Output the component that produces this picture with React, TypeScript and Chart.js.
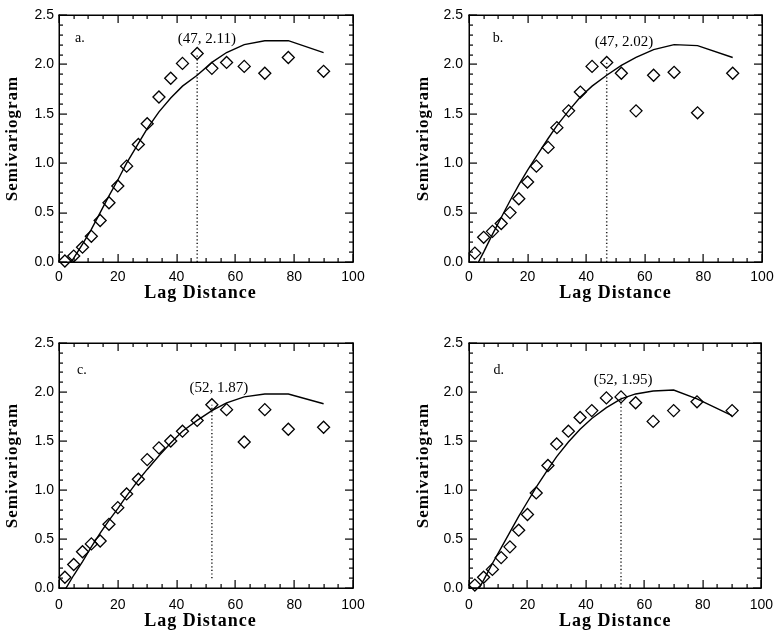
import React, { useEffect, useRef } from "react";
import { Chart, registerables } from "chart.js";

Chart.register(...registerables);

// ---------------- data ----------------
const LAGS = [2, 5, 8, 11, 14, 17, 20, 23, 27, 30, 34, 38, 42, 47, 52, 57, 63, 70, 78, 90];

const OBS_A = [0.01, 0.06, 0.15, 0.26, 0.42, 0.6, 0.77, 0.97, 1.19, 1.4, 1.67, 1.86, 2.01, 2.11, 1.96, 2.02, 1.98, 1.91, 2.07, 1.93];
const MODEL_A = [-0.1, 0.04, 0.18, 0.33, 0.5, 0.67, 0.83, 1.0, 1.2, 1.35, 1.52, 1.66, 1.78, 1.89, 2.02, 2.12, 2.2, 2.24, 2.24, 2.12];

const OBS_B = [0.09, 0.25, 0.31, 0.39, 0.5, 0.64, 0.81, 0.97, 1.16, 1.36, 1.53, 1.72, 1.98, 2.02, 1.91, 1.53, 1.89, 1.92, 1.51, 1.91];
const MODEL_B = [-0.07, 0.1, 0.28, 0.45, 0.62, 0.78, 0.93, 1.07, 1.25, 1.38, 1.53, 1.67, 1.78, 1.89, 1.99, 2.07, 2.15, 2.2, 2.19, 2.07];

const OBS_C = [0.11, 0.24, 0.37, 0.45, 0.48, 0.65, 0.82, 0.96, 1.11, 1.31, 1.43, 1.5, 1.6, 1.71, 1.87, 1.82, 1.49, 1.82, 1.62, 1.64];
const MODEL_C = [-0.02, 0.13, 0.27, 0.42, 0.56, 0.69, 0.81, 0.94, 1.1, 1.21, 1.35, 1.48, 1.6, 1.71, 1.81, 1.89, 1.95, 1.98, 1.98, 1.88];

const OBS_D = [0.03, 0.11, 0.19, 0.31, 0.42, 0.59, 0.75, 0.97, 1.25, 1.47, 1.6, 1.74, 1.81, 1.94, 1.95, 1.89, 1.7, 1.81, 1.9, 1.81];
const MODEL_D = [-0.08, 0.08, 0.25, 0.41, 0.57, 0.73, 0.88, 1.03, 1.21, 1.34, 1.49, 1.62, 1.73, 1.84, 1.93, 1.98, 2.01, 2.02, 1.93, 1.76];

const PANEL_LETTERS = ["a.", "b.", "c.", "d."];
const RANGE_X = [47, 47, 52, 52];
const RANGE_Y = [2.11, 2.02, 1.87, 1.95];
const RANGE_START_Y = [0, 0, 0.1, 0];

const X_TICKS = [0, 20, 40, 60, 80, 100];
const Y_TICKS = [0, 0.5, 1.0, 1.5, 2.0, 2.5];

const X_TITLE = "Lag Distance";
const Y_TITLE = "Semivariogram";

const OBS = [OBS_A, OBS_B, OBS_C, OBS_D];
const MODEL = [MODEL_A, MODEL_B, MODEL_C, MODEL_D];

// ---------------- layout / style ----------------
const X_MINOR_STEP = 5;
const Y_MINOR_STEP = 0.1;

const PANELS = [
  { left: 0, top: 0, padTop: 15, padRight: 38, yw: 59, xh: 58, xTickPad: 7, xTitlePad: 16, xTitleTail: "  ", yTickPad: 5, yTitlePad: 2.4, letterAt: [7.1, 2.26], labelAt: [50.3, 2.26] },
  { left: 391, top: 0, padTop: 15, padRight: 20, yw: 78, xh: 58, xTickPad: 7, xTitlePad: 16, xTitleTail: "", yTickPad: 6, yTitlePad: 22, letterAt: [9.9, 2.26], labelAt: [52.9, 2.23] },
  { left: 0, top: 320, padTop: 23, padRight: 38, yw: 59, xh: 52, xTickPad: 9, xTitlePad: 8, xTitleTail: "  ", yTickPad: 5, yTitlePad: 2.4, letterAt: [7.8, 2.22], labelAt: [54.4, 2.04] },
  { left: 391, top: 320, padTop: 23, padRight: 19, yw: 78, xh: 52, xTickPad: 9, xTitlePad: 8, xTitleTail: "", yTickPad: 6, yTitlePad: 22, letterAt: [10.2, 2.22], labelAt: [52.7, 2.12] },
];

const SANS = "'Liberation Sans', Arial, Helvetica, sans-serif";
const SERIF = "'Liberation Serif', 'Times New Roman', serif";

function isMajor(list: number[], v: number) {
  for (let k = 0; k < list.length; k++) {
    if (Math.abs(list[k] - v) < 1e-6) return true;
  }
  return false;
}

const decoPlugin = {
  id: "panelDeco",
  beforeDraw(chart: any) {
    // axis titles are drawn in the first layers: give them the spaced look of the original
    (chart.ctx as any).letterSpacing = "1px";
  },
  afterDatasetsDraw(chart: any) {
    (chart.ctx as any).letterSpacing = "0px";
  },
  afterDraw(chart: any, _args: any, opts: any) {
    const ctx = chart.ctx as CanvasRenderingContext2D;
    const area = chart.chartArea;
    const left = Math.round(area.left);
    const right = Math.round(area.right);
    const top = Math.round(area.top);
    const bottom = Math.round(area.bottom);
    const xs = chart.scales.x;
    const ys = chart.scales.y;

    ctx.save();
    (ctx as any).letterSpacing = "0px";
    ctx.setTransform(1, 0, 0, 1, 0, 0);
    ctx.globalAlpha = 1;
    ctx.globalCompositeOperation = "source-over";
    ctx.fillStyle = "#000";

    // frame
    const bw = 1.5;
    ctx.fillRect(left - 0.5, top - 0.5, right - left + 1, bw);
    ctx.fillRect(left - 0.5, bottom - 0.5, right - left + 1, bw);
    ctx.fillRect(left - 0.5, top - 0.5, bw, bottom - top + 1);
    ctx.fillRect(right - 0.5, top - 0.5, bw, bottom - top + 1);

    // inward ticks on all four sides
    const xMin = X_TICKS[0];
    const xMax = X_TICKS[X_TICKS.length - 1];
    const nx = Math.round((xMax - xMin) / X_MINOR_STEP);
    for (let i = 0; i <= nx; i++) {
      const v = xMin + i * X_MINOR_STEP;
      const len = isMajor(X_TICKS, v) ? 8 : 4;
      const px = Math.round(xs.getPixelForValue(v));
      ctx.fillRect(px - 0.5, bottom - len, 1.2, len);
      ctx.fillRect(px - 0.5, top, 1.2, len);
    }
    const yMin = Y_TICKS[0];
    const yMax = Y_TICKS[Y_TICKS.length - 1];
    const ny = Math.round((yMax - yMin) / Y_MINOR_STEP);
    for (let i = 0; i <= ny; i++) {
      const v = yMin + i * Y_MINOR_STEP;
      const len = isMajor(Y_TICKS, v) ? 8 : 4;
      const py = Math.round(ys.getPixelForValue(v));
      ctx.fillRect(left, py - 0.5, len, 1.2);
      ctx.fillRect(right - len, py - 0.5, len, 1.2);
    }

    ctx.textAlign = "center";
    ctx.textBaseline = "middle";
    ctx.font = "14px " + SERIF;
    ctx.fillText(opts.letter, xs.getPixelForValue(opts.letterAt[0]), ys.getPixelForValue(opts.letterAt[1]));
    ctx.font = "15px " + SERIF;
    ctx.fillText(opts.label, xs.getPixelForValue(opts.labelAt[0]), ys.getPixelForValue(opts.labelAt[1]));
    ctx.restore();
  },
};

function Panel({ idx }: { idx: number }) {
  const ref = useRef<HTMLCanvasElement>(null);
  useEffect(() => {
    const p = PANELS[idx];
    const obs = OBS[idx];
    const model = MODEL[idx];
    const chart = new Chart(ref.current as HTMLCanvasElement, {
      type: "scatter",
      data: {
        datasets: [
          {
            data: LAGS.map((x, j) => ({ x, y: model[j] })),
            showLine: true,
            borderColor: "#000",
            borderWidth: 1.4,
            pointRadius: 0,
            tension: 0,
            clip: 0,
          } as any,
          {
            data: [
              { x: RANGE_X[idx], y: RANGE_START_Y[idx] },
              { x: RANGE_X[idx], y: RANGE_Y[idx] },
            ],
            showLine: true,
            borderColor: "#222",
            borderWidth: 1.5,
            borderDash: [1.2, 2.4],
            pointRadius: 0,
          } as any,
          {
            data: LAGS.map((x, j) => ({ x, y: obs[j] })),
            showLine: false,
            pointStyle: "rectRot",
            pointRadius: 6,
            pointBorderWidth: 1.3,
            pointBorderColor: "#000",
            pointBackgroundColor: "rgba(0,0,0,0)",
            clip: false,
          } as any,
        ],
      },
      options: {
        animation: false,
        responsive: false,
        devicePixelRatio: 1,
        events: [],
        layout: { padding: { left: 0, top: p.padTop, right: p.padRight, bottom: 0 } },
        plugins: {
          legend: { display: false },
          tooltip: { enabled: false },
          panelDeco: {
            letter: PANEL_LETTERS[idx],
            letterAt: p.letterAt,
            label: `(${RANGE_X[idx]}, ${RANGE_Y[idx].toFixed(2)})`,
            labelAt: p.labelAt,
          },
        } as any,
        scales: {
          x: {
            type: "linear",
            min: X_TICKS[0],
            max: X_TICKS[X_TICKS.length - 1],
            afterBuildTicks: (s: any) => {
              s.ticks = X_TICKS.map((v) => ({ value: v }));
            },
            afterFit: (s: any) => {
              s.height = p.xh;
            },
            grid: { display: false, drawTicks: false },
            border: { display: false },
            ticks: {
              z: 1,
              color: "#000",
              padding: p.xTickPad,
              maxRotation: 0,
              autoSkip: false,
              font: { family: SANS, size: 14 },
              callback: (v: any) => String(v),
            },
            title: {
              display: true,
              text: X_TITLE + p.xTitleTail,
              color: "#000",
              font: { family: SERIF, size: 18, weight: "bold" },
              padding: { top: 0, bottom: p.xTitlePad },
            },
          },
          y: {
            type: "linear",
            min: Y_TICKS[0],
            max: Y_TICKS[Y_TICKS.length - 1],
            afterBuildTicks: (s: any) => {
              s.ticks = Y_TICKS.map((v) => ({ value: v }));
            },
            afterFit: (s: any) => {
              s.width = p.yw;
            },
            grid: { display: false, drawTicks: false },
            border: { display: false },
            ticks: {
              z: 1,
              color: "#000",
              padding: p.yTickPad,
              autoSkip: false,
              font: { family: SANS, size: 14 },
              callback: (v: any) => Number(v).toFixed(1),
            },
            title: {
              display: true,
              text: Y_TITLE,
              color: "#000",
              font: { family: SERIF, size: 17, weight: "bold" },
              padding: { top: p.yTitlePad, bottom: 0 },
            },
          },
        },
      },
      plugins: [decoPlugin],
    } as any);
    return () => chart.destroy();
  }, [idx]);
  const p = PANELS[idx];
  return (
    <canvas
      ref={ref}
      width={391}
      height={320}
      style={{ position: "absolute", left: p.left, top: p.top, width: 391, height: 320 }}
    />
  );
}

export default function App() {
  return (
    <div style={{ position: "absolute", left: 0, top: 0, width: 782, height: 640, background: "#fff" }}>
      {[0, 1, 2, 3].map((i) => (
        <Panel key={i} idx={i} />
      ))}
    </div>
  );
}
